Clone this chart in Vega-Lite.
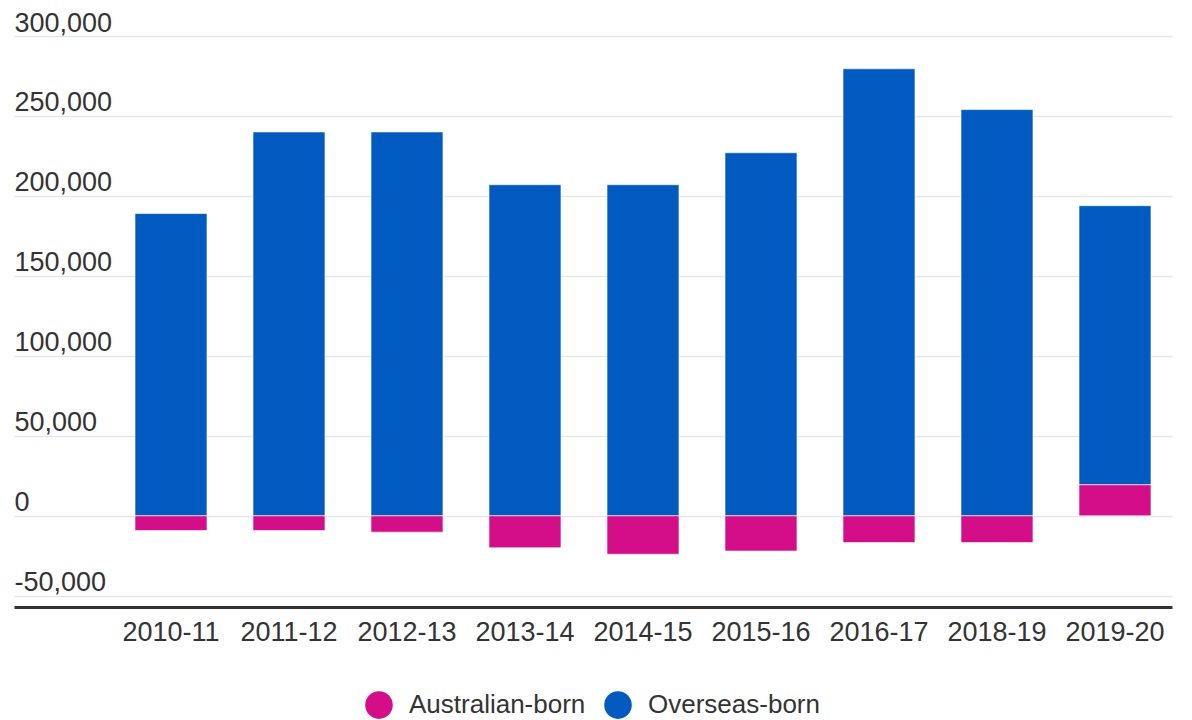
{
  "$schema": "https://vega.github.io/schema/vega-lite/v6.json",
  "width": 1158,
  "height": 571,
  "autosize": {"type": "none"},
  "padding": {"left": 14, "top": 36, "right": 20, "bottom": 113},
  "background": "#ffffff",
  "config": {
    "view": {"stroke": null},
    "font": "Liberation Sans",
    "axis": {"labelFont": "Liberation Sans", "labelColor": "#333333", "labelFontSize": 27}
  },
  "data": {
    "values": [
      {"year": "2010-11", "group": "Overseas-born", "value": 189000},
      {"year": "2011-12", "group": "Overseas-born", "value": 240000},
      {"year": "2012-13", "group": "Overseas-born", "value": 240000},
      {"year": "2013-14", "group": "Overseas-born", "value": 207000},
      {"year": "2014-15", "group": "Overseas-born", "value": 207000},
      {"year": "2015-16", "group": "Overseas-born", "value": 227000},
      {"year": "2016-17", "group": "Overseas-born", "value": 279500},
      {"year": "2018-19", "group": "Overseas-born", "value": 254000},
      {"year": "2019-20", "group": "Overseas-born", "value": 174500},
      {"year": "2010-11", "group": "Australian-born", "value": -9200},
      {"year": "2011-12", "group": "Australian-born", "value": -9200},
      {"year": "2012-13", "group": "Australian-born", "value": -10200},
      {"year": "2013-14", "group": "Australian-born", "value": -20000},
      {"year": "2014-15", "group": "Australian-born", "value": -24000},
      {"year": "2015-16", "group": "Australian-born", "value": -22000},
      {"year": "2016-17", "group": "Australian-born", "value": -16700},
      {"year": "2018-19", "group": "Australian-born", "value": -16700},
      {"year": "2019-20", "group": "Australian-born", "value": 19400}
    ]
  },
  "mark": {"type": "bar", "stroke": "#ffffff", "strokeWidth": 1, "strokeOpacity": 0.6},
  "encoding": {
    "x": {
      "field": "year",
      "type": "nominal",
      "sort": null,
      "scale": {"paddingInner": 0.39, "paddingOuter": 0.6018, "align": 0.852},
      "axis": {
        "title": null,
        "labelAngle": 0,
        "ticks": false,
        "domainColor": "#333333",
        "domainWidth": 3,
        "labelPadding": 12,
        "grid": false
      }
    },
    "y": {
      "field": "value",
      "type": "quantitative",
      "stack": "zero",
      "scale": {"domain": [-57000, 300000], "nice": false, "zero": false},
      "axis": {
        "title": null,
        "values": [-50000, 0, 50000, 100000, 150000, 200000, 250000, 300000],
        "format": ",d",
        "labelExpr": "replace(datum.label, '−', '-')",
        "domain": false,
        "ticks": false,
        "tickSize": 0,
        "labelAlign": "left",
        "labelBaseline": "alphabetic",
        "labelPadding": 0,
        "labelOffset": -5,
        "labelFlush": false,
        "labelOverlap": false,
        "labelBound": false,
        "gridColor": "#e6e6e6",
        "gridWidth": 1.5
      }
    },
    "color": {
      "field": "group",
      "type": "nominal",
      "scale": {"domain": ["Australian-born", "Overseas-born"], "range": ["#d40d88", "#005ac0"]},
      "legend": {
        "title": null,
        "orient": "none",
        "legendX": 351,
        "legendY": 655,
        "direction": "horizontal",
        "symbolType": "circle",
        "symbolSize": 760,
        "symbolStrokeWidth": 0,
        "labelFont": "Liberation Sans",
        "labelFontSize": 26,
        "labelColor": "#333333",
        "labelLimit": 400,
        "labelOffset": 16,
        "columnPadding": 18
      }
    },
    "order": {"field": "group", "sort": "ascending"}
  }
}
